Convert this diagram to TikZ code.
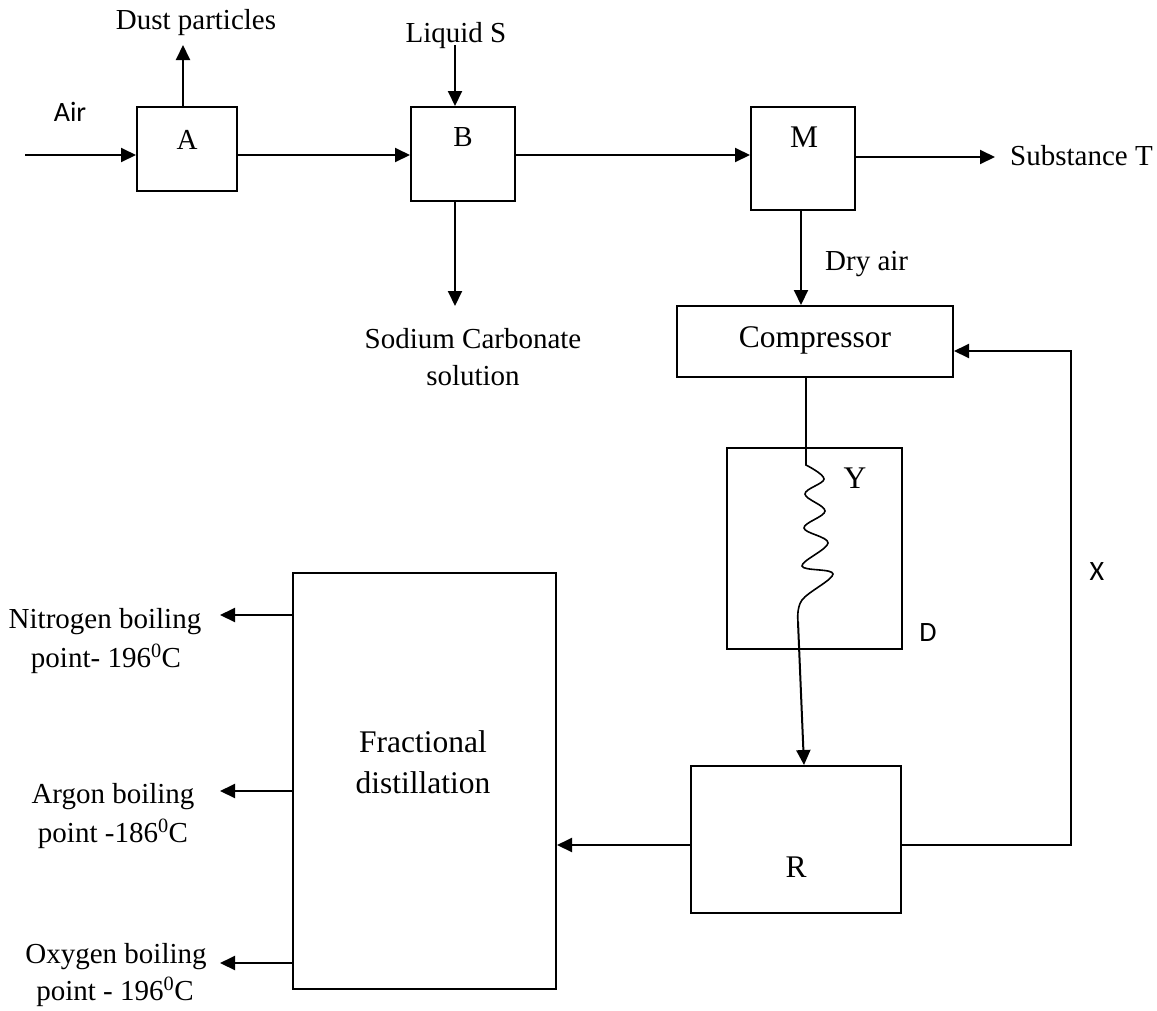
\documentclass[tikz,border=0pt]{standalone}
\usepackage{fontspec}
\setmainfont{Liberation Serif}
\newfontfamily\sansf{Carlito}
\usetikzlibrary{arrows.meta,calc}
\begin{document}
\begin{tikzpicture}[x=1pt,y=-1pt,
  box/.style={draw,line width=2pt,inner sep=0pt},
  txt/.style={inner sep=0pt,font=\fontsize{29}{40}\selectfont},
  btxt/.style={inner sep=0pt,font=\fontsize{31.5}{40}\selectfont},
  stxt/.style={inner sep=0pt,font=\sansf\fontsize{28}{34}\selectfont},
  flow/.style={line width=2pt,-{Triangle[length=15pt,width=14pt]}},
  coil/.style={line width=1.6pt}]
\useasboundingbox (0,0) rectangle (1157,1010);
% boxes
\node[box,minimum width=100pt,minimum height=84pt] (A) at (187,149) {};
\node[box,minimum width=104pt,minimum height=94pt] (B) at (463,154) {};
\node[box,minimum width=104pt,minimum height=103pt] (M) at (803,158.5) {};
\node[box,minimum width=276pt,minimum height=71pt] (comp) at (815,341.5) {};
\node[box,minimum width=175pt,minimum height=201pt] (D) at (814.5,548.5) {};
\node[box,minimum width=210pt,minimum height=147pt] (R) at (796,839.5) {};
\node[box,minimum width=263pt,minimum height=416pt] (FD) at (424.5,781) {};
% labels
\node[txt] (lA) at (187,140) {A};
\node[txt] (lB) at (463,137) {B};
\node[btxt] (lM) at (804,137) {M};
\node[btxt] (lR) at (796,867) {R};
\node[btxt] (lY) at (855,478) {Y};
\node[btxt,anchor=base] (lcomp) at (815,347) {Compressor};
\node[btxt,anchor=base] (lfd1) at (423,752) {Fractional};
\node[btxt,anchor=base] (lfd2) at (423,793) {distillation};
\node[stxt] (lair) at (70,112) {Air};
\node[stxt] (lD) at (928,633) {D};
\node[stxt] (lX) at (1097,572) {X};
\node[txt,anchor=base] (ldust) at (196,29) {Dust particles};
\node[txt,anchor=base] (lliq) at (456,42) {Liquid S};
\node[txt,anchor=base west] (lT) at (1010,165) {Substance T};
\node[txt,anchor=base] (lna1) at (473,348) {Sodium Carbonate};
\node[txt,anchor=base] (lna2) at (473,385) {solution};
\node[txt,anchor=base west] (ldry) at (825,270) {Dry air};
\node[txt,anchor=base] (ln1) at (105,628) {Nitrogen boiling};
\node[txt,anchor=base] (ln2) at (106,667) {point- 196\textsuperscript{0}C};
\node[txt,anchor=base] (la1) at (113,803) {Argon boiling};
\node[txt,anchor=base] (la2) at (113,842) {point -186\textsuperscript{0}C};
\node[txt,anchor=base] (lo1) at (116,963) {Oxygen boiling};
\node[txt,anchor=base] (lo2) at (115,1000) {point - 196\textsuperscript{0}C};
% free ends
\coordinate (airin) at (25,155);
\coordinate (dustend) at (183,45);
\coordinate (liqstart) at (455,45);
\coordinate (naend) at (455,306);
\coordinate (tend) at (995,157);
\coordinate (dryx) at (801,0);
\coordinate (coilx) at (806,0);
\coordinate (rx) at (804,0);
\coordinate (loopR) at (1071,845);
\coordinate (loopC) at (1071,351);
\coordinate (n2end) at (220,615);
\coordinate (arend) at (220,791);
\coordinate (o2end) at (220,963);
% connectors
\draw[flow] (airin) -- (airin -| A.west);
\draw[flow] (dustend |- A.north) -- (dustend);
\draw[flow] (A.east |- airin) -- (B.west |- airin);
\draw[flow] (liqstart) -- (liqstart |- B.north);
\draw[flow] (naend |- B.south) -- (naend);
\draw[flow] (B.east |- airin) -- (M.west |- airin);
\draw[flow] (M.east |- tend) -- (tend);
\draw[flow] (dryx |- M.south) -- (dryx |- comp.north);
\draw[coil] (coilx |- comp.south) -- (806,465)
  -- plot[smooth,tension=0.6] coordinates {(806,465) (824,479) (805,494) (825,511) (804,528) (828,543) (802,566) (833,574) (802,600) (798,622)};
\draw[flow] (798,622) -- (rx |- R.north);
\draw[flow] (R.west |- loopR) -- (FD.east |- loopR);
\draw[flow] (R.east |- loopR) -- (loopR) -- (loopC) -- (comp.east |- loopC);
\draw[flow] (FD.west |- n2end) -- (n2end);
\draw[flow] (FD.west |- arend) -- (arend);
\draw[flow] (FD.west |- o2end) -- (o2end);
\end{tikzpicture}
\end{document}
